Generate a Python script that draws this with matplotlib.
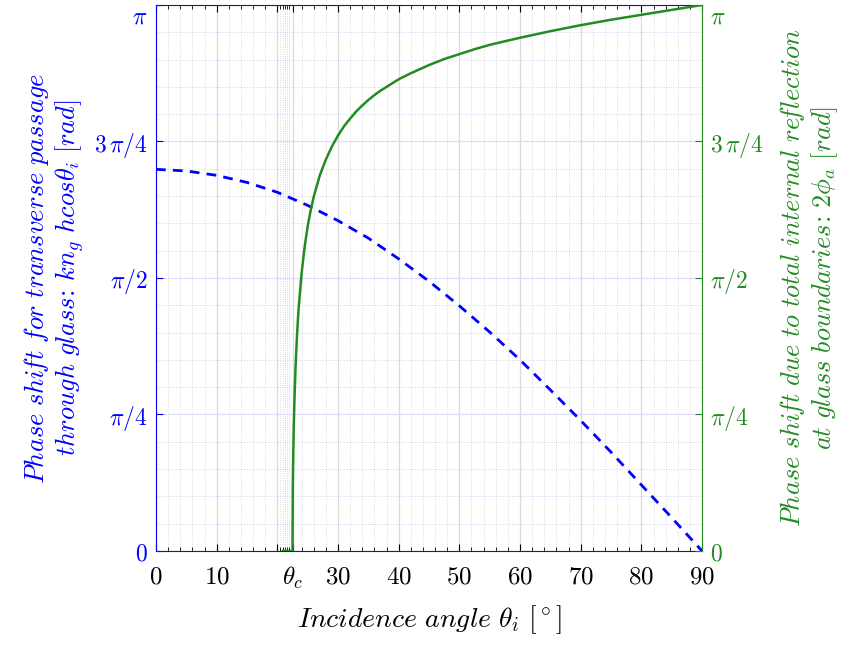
import matplotlib
matplotlib.use("Agg")
import matplotlib.pyplot as plt
import numpy as np

plt.rcParams['mathtext.fontset'] = 'cm'

# blue dashed: k n_g h cos(theta_i), values in units of pi
theta_glass = [0, 5, 10, 15, 20, 25, 30, 35, 40, 45, 50, 55, 60, 65, 70, 75, 80, 85, 90]
glass_phase = [0.699, 0.696, 0.688, 0.675, 0.657, 0.633, 0.605, 0.573, 0.535, 0.494,
               0.449, 0.401, 0.350, 0.295, 0.239, 0.181, 0.121, 0.061, 0.0]

# green: 2*phi_a from total internal reflection, units of pi
theta_tir = [20.9, 22.5, 22.55, 22.6, 22.7, 22.8, 23, 23.25, 23.5, 24, 24.5, 25, 25.5,
             26, 27, 28, 29, 30, 31, 32, 33, 34, 35, 36, 37, 38, 40, 42, 45, 47.5,
             50, 52.5, 55, 60, 65, 70, 75, 80, 85, 90]
tir_phase = [0.0, 0.0, 0.116, 0.162, 0.225, 0.270, 0.337, 0.397, 0.443, 0.509, 0.557,
             0.595, 0.624, 0.649, 0.688, 0.717, 0.741, 0.761, 0.778, 0.792, 0.805,
             0.816, 0.826, 0.835, 0.843, 0.850, 0.864, 0.875, 0.890, 0.901,
             0.910, 0.919, 0.927, 0.940, 0.952, 0.963, 0.973, 0.982, 0.991, 1.0]

theta_c = 22.5
x_major = [0, 10, 20, theta_c, 30, 40, 50, 60, 70, 80, 90]
x_labels = ['$0$', '$10$', '', r'$\theta_c$', '$30$', '$40$',
            '$50$', '$60$', '$70$', '$80$', '$90$']
x_minor = [2, 4, 6, 8, 12, 14, 16, 18, 20.5, 20.9, 21.25, 21.6, 22.0, 24, 26, 28,
           32, 34, 36, 38, 42, 44, 46, 48, 52, 54, 56, 58, 62, 64, 66, 68,
           72, 74, 76, 78, 82, 84, 86, 88]
y_major = [0, 0.25, 0.5, 0.75, 1.0]
y_labels = ['$0$', r'$\pi/4$', r'$\pi/2$', r'$3\,\pi/4$', r'$\pi$']
y_minor = [i / 20 for i in range(21)]

blue = '#0000ff'
green = '#228b22'

fig = plt.figure(figsize=(8.52, 6.48), dpi=100)
ax = fig.add_axes([0.1831, 0.1497, 0.6409, 0.8426])
ax2 = ax.twinx()

ax.plot(theta_glass, np.array(glass_phase) * np.pi, color=blue, lw=2.0,
        dashes=(3.5, 2.6))
ax2.plot(theta_tir, np.array(tir_phase) * np.pi, color=green, lw=1.8)

for a in (ax, ax2):
    a.set_xlim(0, 90)
    a.set_ylim(0, np.pi)
    a.set_yticks(np.array(y_major) * np.pi)
    a.set_yticklabels(y_labels)
    a.set_yticks(np.array(y_minor) * np.pi, minor=True)
    a.get_yticklabels()[-1].set_va('top')

ax.set_xticks(x_major)
ax.set_xticklabels(x_labels)
ax.set_xticks(x_minor, minor=True)

ax.tick_params(axis='x', which='major', direction='in', top=True, length=5,
               width=0.8, labelsize=18, pad=10)
ax.tick_params(axis='x', which='minor', direction='in', top=True, length=3, width=0.6)
ax.tick_params(axis='y', which='major', direction='in', length=5, colors=blue,
               labelsize=17, pad=6)
ax.tick_params(axis='y', which='minor', length=0)
ax2.tick_params(axis='y', which='major', direction='in', length=5, colors=green,
                labelsize=17, pad=6)
ax2.tick_params(axis='y', which='minor', length=0)

ax.xaxis.grid(True, which='major', color='#dadada', lw=0.9)
ax.xaxis.grid(True, which='minor', color='#d0d0d0', lw=0.6, ls=':')
ax.yaxis.grid(True, which='major', color='#dcdcff', lw=0.9)
ax.yaxis.grid(True, which='minor', color='#c8c8f0', lw=0.6, ls=':')
ax.set_axisbelow(True)

ax.spines['left'].set_color(blue)
ax.spines['right'].set_visible(False)
ax2.spines['left'].set_visible(False)
ax2.spines['right'].set_color(green)
ax2.spines['top'].set_visible(False)
ax2.spines['bottom'].set_visible(False)
for s in ('top', 'bottom'):
    ax.spines[s].set_color('#262626')

ax.set_xlabel(r'$\mathit{Incidence\ angle}\ \theta_i\ [^\circ]$', fontsize=20, labelpad=9)
ax.set_ylabel(r'$\mathit{Phase\ shi\!ft\ for\ transverse\ passage}$' + '\n'
              + r'$\mathit{through\ glass}\!:\,kn_g\ hcos\theta_i\ [rad]$',
              fontsize=19, color=blue, labelpad=6, linespacing=1.1)
ax2.set_ylabel(r'$\mathit{Phase\ shi\!ft\ due\ to\ total\ internal\ re\!flection}$' + '\n'
               + r'$\mathit{at\ glass\ boundaries}\!:\,2\phi_a\ [rad]$',
               fontsize=19, color=green, labelpad=10, linespacing=1.1)

plt.savefig('out.png', dpi=100)
